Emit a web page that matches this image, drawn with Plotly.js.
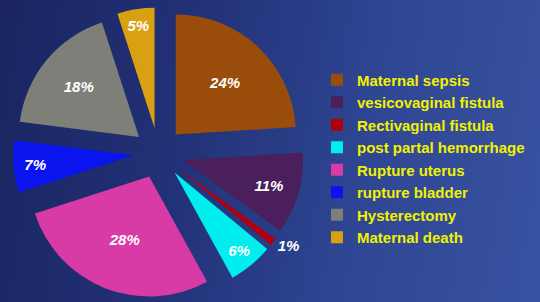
<!DOCTYPE html>
<html>
<head>
<meta charset="utf-8">
<script src="https://cdn.plot.ly/plotly-3.0.1.min.js"></script>
<style>
html,body{margin:0;padding:0;width:540px;height:302px;overflow:hidden;}
body{background:linear-gradient(100deg,#1a2560 0%,#223278 35%,#2e4592 65%,#3853a2 100%);}
#chart{width:540px;height:302px;}
</style>
</head>
<body>
<div id="chart"></div>
<script>
const categories = ["Maternal sepsis","vesicovaginal fistula","Rectivaginal fistula","post partal hemorrhage","Rupture uterus","rupture bladder","Hysterectomy","Maternal death"];
const values = [24, 11, 1, 6, 28, 7, 18, 5];
const colors = ["#9a4d0a","#4a1f5c","#b0000e","#00eeee","#d83aa6","#0a14ee","#7f7f7a","#d9a012"];
const textPositions = ["inside","inside","outside","inside","inside","inside","inside","inside"];

const trace = {
  type: "pie",
  labels: categories,
  values: values,
  sort: false,
  direction: "clockwise",
  rotation: 0,
  pull: values.map(() => 0.21),
  marker: {colors: colors, line: {width: 0}},
  textinfo: "percent",
  textposition: textPositions,
  insidetextorientation: "horizontal",
  textfont: {family: "Liberation Sans, Arial, sans-serif", size: 15, color: "#ffffff", weight: "bold", style: "italic"},
  domain: {x: [0.024, 0.563], y: [0.012, 0.975]},
  hoverinfo: "label+percent"
};

const layout = {
  width: 540, height: 302,
  margin: {l: 0, r: 0, t: 0, b: 0},
  paper_bgcolor: "rgba(0,0,0,0)",
  plot_bgcolor: "rgba(0,0,0,0)",
  showlegend: true,
  legend: {
    x: 0.587, y: 0.79, xanchor: "left", yanchor: "top",
    bgcolor: "rgba(0,0,0,0)",
    font: {family: "Liberation Sans, Arial, sans-serif", size: 15, color: "#f2f200", weight: "bold"},
    itemwidth: 30,
    tracegroupgap: 0,
    traceorder: "normal"
  }
};

Plotly.newPlot("chart", [trace], layout, {displayModeBar: false, staticPlot: true});
</script>
</body>
</html>
